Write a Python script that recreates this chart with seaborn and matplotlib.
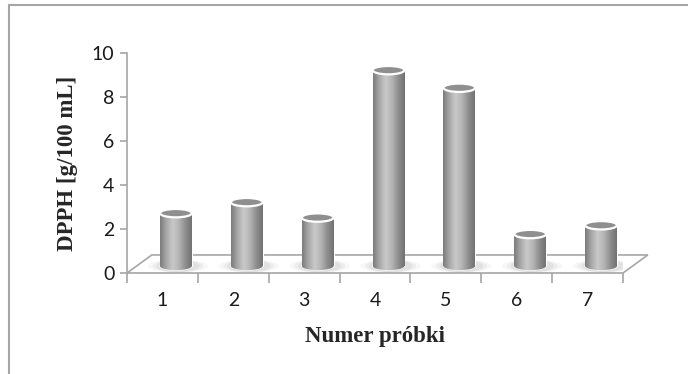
import numpy as np
import pandas as pd
import matplotlib
matplotlib.use("Agg")
import matplotlib.pyplot as plt
import seaborn as sns
from matplotlib.patches import Ellipse, Polygon
from matplotlib.colors import LinearSegmentedColormap

# Data
samples = ["1", "2", "3", "4", "5", "6", "7"]
dpph = [2.4, 2.9, 2.2, 8.9, 8.1, 1.45, 1.85]
y_ticks = [0, 2, 4, 6, 8, 10]

# 3D look (in data units)
depth_dx, depth_dy = 0.35, 0.82   # floor back edge offset
bar_shift, bar_base = 0.19, 0.32  # bars sit mid-depth on the floor
bar_w = 0.45
cap_h = 0.38

sns.set_style("white")
plt.rcParams["font.family"] = ["Lato", "DejaVu Sans"]

fig = plt.figure(figsize=(6.88, 3.74), dpi=100)
ax = fig.add_axes([127 / 688, 101 / 374, 496 / 688, 220 / 374])

df = pd.DataFrame({"sample": samples, "dpph": dpph})
sns.barplot(data=df, x="sample", y="dpph", color="#a0a0a0", width=bar_w,
            edgecolor="white", linewidth=0.8, ax=ax, zorder=3)

cyl = LinearSegmentedColormap.from_list(
    "cyl", ["#7c7c7c", "#a9a9a9", "#c9c9c9", "#b4b4b4", "#8e8e8e", "#727272"])
grad = np.linspace(0, 1, 64).reshape(1, -1)

# floor
floor = Polygon([(-0.5, 0), (6.5, 0), (6.5 + depth_dx, depth_dy), (-0.5 + depth_dx, depth_dy)],
                closed=True, facecolor="white", edgecolor="#a6a6a6", lw=1.2,
                clip_on=False, zorder=1)
ax.add_patch(floor)

for p, v in zip(ax.patches[:len(dpph)], dpph):
    p.set_x(p.get_x() + bar_shift)
    p.set_y(bar_base)
    p.set_height(v)
    x0 = p.get_x()
    x1 = x0 + p.get_width()
    cx = (x0 + x1) / 2
    # shadow on the floor
    for k, a in zip([1.9, 1.6, 1.35], [0.08, 0.1, 0.14]):
        ax.add_patch(Ellipse((cx + 0.03, bar_base), p.get_width() * k, cap_h * 1.5,
                             facecolor="#9a9a9a", edgecolor="none", alpha=a, zorder=2))
    # rounded bottom
    bot = Ellipse((cx, bar_base), p.get_width(), cap_h, facecolor="#a0a0a0",
                  edgecolor="white", lw=0.8, zorder=3)
    ax.add_patch(bot)
    for clip in (p, bot):
        im = ax.imshow(grad, cmap=cyl, aspect="auto", interpolation="bicubic",
                       extent=[x0, x1, bar_base - cap_h, bar_base + v], zorder=3.5)
        im.set_clip_path(clip)
    # top cap
    ax.add_patch(Ellipse((cx, bar_base + v), p.get_width(), cap_h,
                         facecolor="#8f8f8f", edgecolor="white", lw=1.6, zorder=4))

ax.set_xlim(-0.5, 6.5)
ax.set_ylim(0, 10)
ax.set_yticks(y_ticks)
ax.set_xticks(range(len(samples)))
ax.set_xticklabels(samples)
ax.set_xticks(np.arange(-0.5, 7, 1), minor=True)

for s in ["top", "right", "bottom"]:
    ax.spines[s].set_visible(False)
ax.spines["left"].set_color("#a6a6a6")
ax.spines["left"].set_linewidth(1.2)

ax.tick_params(axis="y", which="major", direction="out", length=5, width=1.2,
               color="#a6a6a6", labelsize=14, labelcolor="#1a1a1a", pad=4, left=True)
ax.tick_params(axis="x", which="major", length=0, labelsize=14, labelcolor="#1a1a1a", pad=14)
ax.tick_params(axis="x", which="minor", direction="out", length=7, width=1.2,
               color="#a6a6a6", bottom=True)

ax.set_xlabel("Numer próbki", family="Liberation Serif", fontweight="bold",
              fontsize=16.5, labelpad=12)
ax.set_ylabel("DPPH [g/100 mL]", family="Liberation Serif", fontweight="bold",
              fontsize=16.5, labelpad=10)

# chart border
fig.add_artist(plt.Line2D([9 / 688, 9 / 688], [0, 1 - 5 / 374], color="#a6a6a6", lw=1.5))
fig.add_artist(plt.Line2D([9 / 688, 1], [1 - 5 / 374, 1 - 5 / 374], color="#a6a6a6", lw=1.5))

fig.savefig("out.png", dpi=100)
